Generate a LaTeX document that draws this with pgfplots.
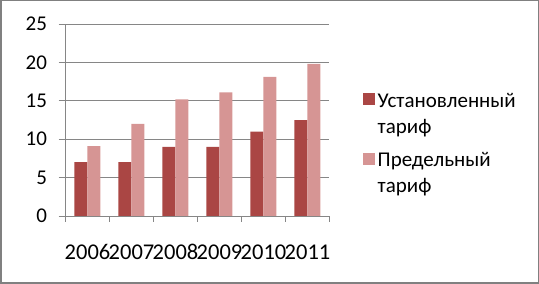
\documentclass[border=0pt]{standalone}
\usepackage{fontspec}
\setmainfont{Carlito}
\usepackage{pgfplots}
\pgfplotsset{compat=1.18}
\definecolor{dark}{RGB}{170,70,68}
\definecolor{light}{RGB}{214,149,148}
\definecolor{axgray}{RGB}{134,134,134}
\definecolor{frame}{RGB}{128,128,128}
\newcommand{\two}[2]{\fontsize{21}{26}\selectfont\begin{tabular}[t]{@{}l@{}}#1\\#2\end{tabular}}
\begin{document}
\begin{tikzpicture}
\useasboundingbox (0,0) rectangle (539pt,284pt);
\draw[frame, line width=1.5pt] (0.75pt,0.75pt) rectangle (538.25pt,283.25pt);
\begin{axis}[
  at={(65.5pt,68pt)}, anchor=south west,
  scale only axis, width=264pt, height=192pt,
  ybar, bar width=13pt, ybar=0pt,
  xmin=-0.5, xmax=5.5, ymin=0, ymax=25,
  xtick={0,...,5},
  xticklabels={2006,2007,2008,2009,2010,2011},
  minor xtick={-0.5,0.5,...,5.5},
  ytick={0,5,...,25},
  major x tick style={draw=none},
  minor tick length=6pt,
  major tick length=7pt,
  tick align=outside,
  every tick/.style={axgray, line width=0.8pt},
  ymajorgrids, grid style={axgray, line width=0.8pt},
  axis x line*=bottom, axis y line*=left,
  axis line style={axgray, line width=0.8pt, -},
  font=\fontsize{21}{25}\selectfont,
  /pgf/number format/assume math mode=true,
  xticklabel style={yshift=-18pt, inner xsep=0pt, font=\fontsize{22.5}{26}\selectfont},
  yticklabel style={xshift=-8pt},
  legend style={at={(rel axis cs:1,0.6625)}, anchor=north west, xshift=33pt,
    draw=none, fill=none, inner sep=0pt, row sep=40pt,
    nodes={inner sep=0pt},
    cells={anchor=base west}},
  legend image code/.code={\fill[#1] (0pt,2pt) rectangle (12pt,14pt);},
]
\addplot[fill=dark, draw=none] coordinates {(0,7) (1,7) (2,9) (3,9) (4,11) (5,12.5)};
\addplot[fill=light, draw=none] coordinates {(0,9.1) (1,12) (2,15.2) (3,16.1) (4,18.1) (5,19.8)};
\addlegendentry{\hspace{3pt}\two{Установленный}{тариф}}
\addlegendentry{\hspace{3pt}\two{Предельный}{тариф}}
\end{axis}
\end{tikzpicture}
\end{document}
